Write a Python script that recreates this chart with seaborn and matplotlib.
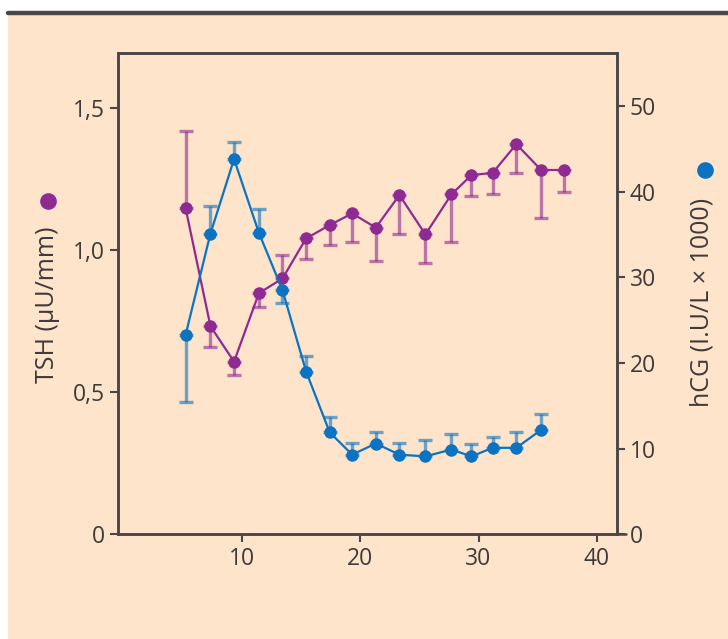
import matplotlib
matplotlib.use("Agg")
import matplotlib.pyplot as plt
import seaborn as sns
import numpy as np
from matplotlib.patches import Rectangle
from matplotlib.lines import Line2D

# Data (gestational week)
weeks = [5.2, 7.3, 9.3, 11.4, 13.4, 15.4, 17.4, 19.3, 21.3, 23.3, 25.5, 27.7, 29.4, 31.2, 33.2, 35.3, 37.2]

tsh = [1.148, 0.733, 0.608, 0.849, 0.901, 1.042, 1.089, 1.130, 1.080, 1.195,
       1.056, 1.197, 1.265, 1.273, 1.374, 1.283, 1.283]
tsh_err_lo = [0, 0.073, 0.047, 0.047, 0, 0.074, 0.070, 0.100, 0.116, 0.137,
              0.100, 0.168, 0.074, 0.075, 0.101, 0.168, 0.077]
tsh_err_hi = [0.273, 0, 0, 0, 0.082, 0, 0, 0, 0, 0, 0, 0, 0, 0, 0, 0, 0]

hcg = [23.3, 35.1, 43.8, 35.2, 28.5, 19.0, 11.9, 9.3, 10.6, 9.3,
       9.1, 9.9, 9.1, 10.1, 10.1, 12.2]
hcg_err_lo = [7.9, 0, 0, 0, 1.5, 0, 0, 0, 0, 0, 0, 0, 0, 0, 0, 0]
hcg_err_hi = [0, 3.2, 2.0, 2.8, 0, 1.8, 1.8, 1.4, 1.4, 1.4, 1.9, 1.8, 1.4, 1.3, 1.9, 1.9]

x_ticks = [10, 20, 30, 40]
tsh_ticks = [0, 0.5, 1.0, 1.5]
tsh_ticklabels = ["0", "0,5", "1,0", "1,5"]
hcg_ticks = [0, 10, 20, 30, 40, 50]

purple = "#8e2a92"
blue = "#0b73c1"
bg = "#fde4cb"
ink = "#3f3a3a"

sns.set_theme(style="ticks")
plt.rcParams["font.family"] = ["Open Sans", "DejaVu Sans"]

fig = plt.figure(figsize=(7.28, 6.39), dpi=100)
fig.patch.set_facecolor(bg)
# white strips + dark rule at the top (page edge)
fig.add_artist(Rectangle((0, 1 - 12 / 639), 1, 12 / 639, transform=fig.transFigure,
                         facecolor="white", edgecolor="none", zorder=0))
fig.add_artist(Rectangle((0, 0), 8 / 728, 1, transform=fig.transFigure,
                         facecolor="white", edgecolor="none", zorder=0))
fig.add_artist(Line2D([8 / 728, 1], [1 - 13 / 639, 1 - 13 / 639], transform=fig.transFigure,
                      color="#4a4646", lw=3.2))

ax = fig.add_axes([0.1617, 0.1638, 0.6863, 0.7528])
ax.set_facecolor(bg)
ax2 = ax.twinx()

# TSH (left axis)
sns.lineplot(x=weeks, y=tsh, ax=ax, color=purple, marker="o", markersize=9,
             markeredgewidth=0, linewidth=1.6, zorder=3)
ax.errorbar(weeks, tsh, yerr=[tsh_err_lo, tsh_err_hi], fmt="none", ecolor=purple,
            alpha=0.6, elinewidth=2.4, capsize=5, capthick=2.4, zorder=2)

# hCG (right axis)
sns.lineplot(x=weeks[:len(hcg)], y=hcg, ax=ax2, color=blue, marker="o", markersize=9,
             markeredgewidth=0, linewidth=1.6, zorder=3)
ax2.errorbar(weeks[:len(hcg)], hcg, yerr=[hcg_err_lo, hcg_err_hi], fmt="none", ecolor=blue,
             alpha=0.6, elinewidth=2.4, capsize=5, capthick=2.4, zorder=2)

ax.set_xlim(-0.55, 41.75)
ax.set_ylim(0, 1.694)
ax2.set_ylim(0, 56.15)

ax.set_xticks(x_ticks)
ax.set_yticks(tsh_ticks)
ax.set_yticklabels(tsh_ticklabels)
ax2.set_yticks(hcg_ticks)

for a in (ax, ax2):
    for s in a.spines.values():
        s.set_color("#4a4646")
        s.set_linewidth(1.8)
    a.tick_params(colors="#4a4646", labelcolor=ink, labelsize=16.5, width=1.5, length=6, pad=3)
ax.tick_params(axis="x", length=6, pad=3)

# bottom spine runs slightly past the right spine
ax.add_line(Line2D([1, 1.018], [0, 0], transform=ax.transAxes, color="#4a4646",
                   lw=1.8, clip_on=False))

# axis titles with coloured dots
fig.text(48 / 728, 1 - 305 / 639, "TSH (µU/mm)", rotation=90, ha="center", va="center",
         fontsize=18, color=ink)
fig.text(702 / 728, 1 - 302 / 639, "hCG (I.U/L × 1000)", rotation=90, ha="center", va="center",
         fontsize=18, color=ink)
fig.add_artist(Line2D([48 / 728], [1 - 201 / 639], transform=fig.transFigure, marker="o",
                      markersize=12, color=purple, markeredgewidth=0))
fig.add_artist(Line2D([705 / 728], [1 - 170 / 639], transform=fig.transFigure, marker="o",
                      markersize=12, color=blue, markeredgewidth=0))

ax.set_xlabel("")
ax.set_ylabel("")
ax2.set_ylabel("")

fig.savefig("out.png", dpi=100, facecolor=fig.get_facecolor())
